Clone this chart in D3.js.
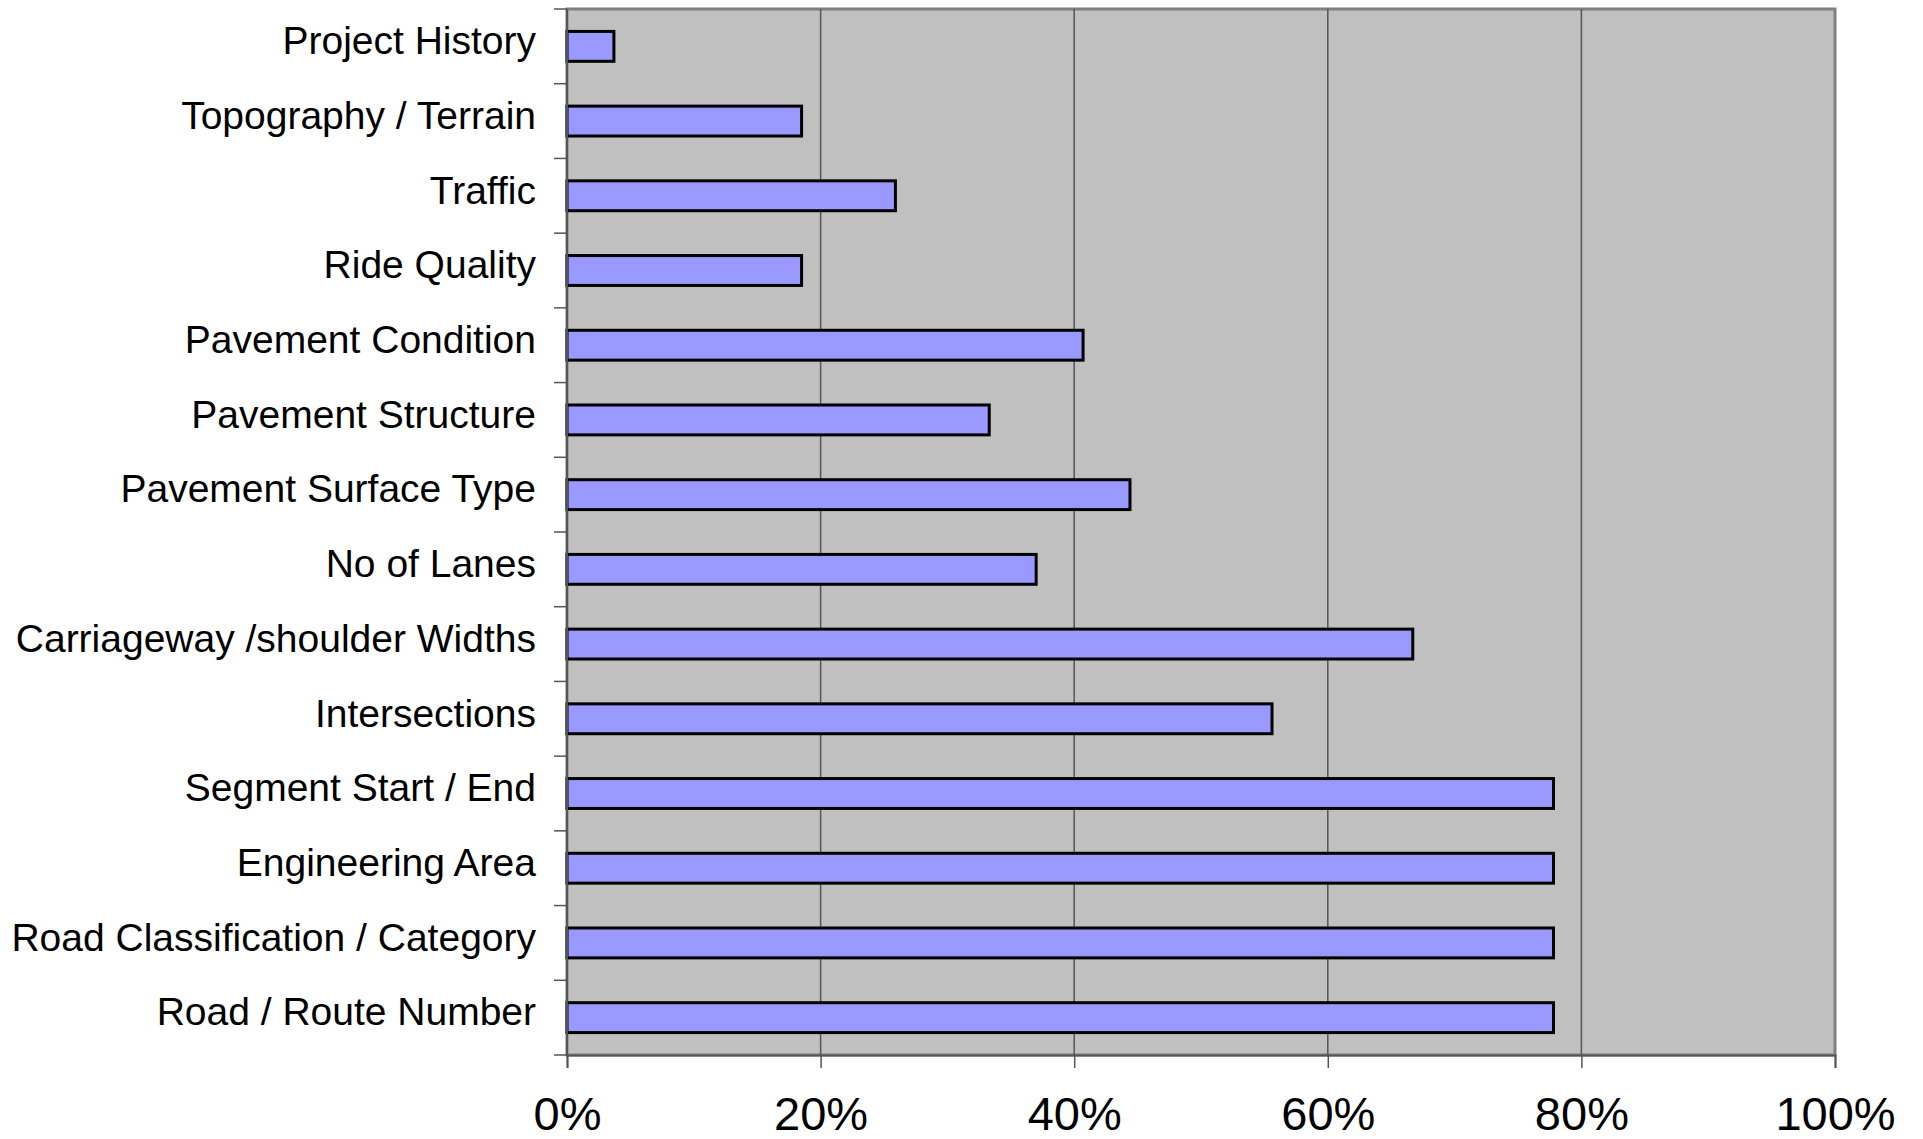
<!DOCTYPE html>
<html>
<head>
<meta charset="utf-8">
<script src="https://cdn.jsdelivr.net/npm/d3@7"></script>
<style>
  body { margin: 0; background: #ffffff; }
  text { font-family: "Liberation Sans", Arial, sans-serif; }
</style>
</head>
<body>
<div id="svganchor"></div>
<script>
// categories, top to bottom as in the picture
let categories = [
  "Project History",
  "Topography / Terrain",
  "Traffic",
  "Ride Quality",
  "Pavement Condition",
  "Pavement Structure",
  "Pavement Surface Type",
  "No of Lanes",
  "Carriageway /shoulder Widths",
  "Intersections",
  "Segment Start / End",
  "Engineering Area",
  "Road Classification / Category",
  "Road / Route Number"
];

// share of respondents (0..1)
let shares = [0.037, 0.185, 0.259, 0.185, 0.407, 0.333, 0.444, 0.370, 0.667, 0.556, 0.778, 0.778, 0.778, 0.778];

let xTicks = [0, 0.2, 0.4, 0.6, 0.8, 1.0];
let xTickLabels = ["0%", "20%", "40%", "60%", "80%", "100%"];

var margin = { top: 9, right: 88, bottom: 84, left: 567 },
  width = 1923 - margin.left - margin.right,
  height = 1139 - margin.top - margin.bottom;

var svg = d3.select("#svganchor").append("svg")
  .attr("width", 1923)
  .attr("height", 1139);

var g = svg.append("g")
  .attr("transform", "translate(" + margin.left + "," + margin.top + ")");

var x = d3.scaleLinear().domain([0, 1]).range([0, width]);
var y = d3.scaleBand().domain(categories).range([0, height]).paddingInner(0.6).paddingOuter(0.3);

// plot area background
g.append("rect")
  .attr("x", 0).attr("y", 0)
  .attr("width", width).attr("height", height)
  .attr("fill", "#c0c0c0")
  .attr("stroke", "#808080")
  .attr("stroke-width", 3);

// vertical gridlines
g.selectAll(".grid")
  .data(xTicks.slice(1, -1))
  .enter()
  .append("line")
  .attr("x1", function (d) { return x(d) })
  .attr("x2", function (d) { return x(d) })
  .attr("y1", 0)
  .attr("y2", height)
  .attr("stroke", "#555555")
  .attr("stroke-width", 1.5);

// bars
g.selectAll(".bar")
  .data(categories)
  .enter()
  .append("rect")
  .attr("x", x(0))
  .attr("y", function (d) { return y(d) })
  .attr("width", function (d, i) { return x(shares[i]) - x(0) })
  .attr("height", y.bandwidth())
  .attr("fill", "#9999ff")
  .attr("stroke", "#000000")
  .attr("stroke-width", 3);

// y axis: ticks at the band boundaries, labels in each band
var boundaries = d3.range(categories.length + 1).map(function (i) { return i * height / categories.length });
g.selectAll(".ytick")
  .data(boundaries)
  .enter()
  .append("line")
  .attr("x1", -13).attr("x2", 0)
  .attr("y1", function (d) { return d })
  .attr("y2", function (d) { return d })
  .attr("stroke", "#555555")
  .attr("stroke-width", 1.5);

g.append("line")
  .attr("x1", 0).attr("x2", 0)
  .attr("y1", 0).attr("y2", height)
  .attr("stroke", "#555555")
  .attr("stroke-width", 2);

g.selectAll(".ylabel")
  .data(categories)
  .enter()
  .append("text")
  .attr("x", -31)
  .attr("y", function (d) { return y(d) + y.bandwidth() / 2 })
  .attr("dy", "0.2em")
  .attr("text-anchor", "end")
  .attr("font-size", "39px")
  .attr("fill", "#000")
  .text(function (d) { return d });

// x axis
var xAxis = g.append("g")
  .attr("transform", "translate(0," + height + ")")
  .call(d3.axisBottom(x)
    .tickValues(xTicks)
    .tickSize(13)
    .tickPadding(29)
    .tickFormat(function (d, i) { return xTickLabels[i] }));

xAxis.select(".domain").attr("stroke", "#555555").attr("stroke-width", 2);
xAxis.selectAll(".tick line").attr("stroke", "#555555").attr("stroke-width", 1.5);
xAxis.selectAll(".tick text")
  .attr("font-family", "'Liberation Sans', Arial, sans-serif")
  .attr("font-size", "47px")
  .attr("fill", "#000");
</script>
</body>
</html>
